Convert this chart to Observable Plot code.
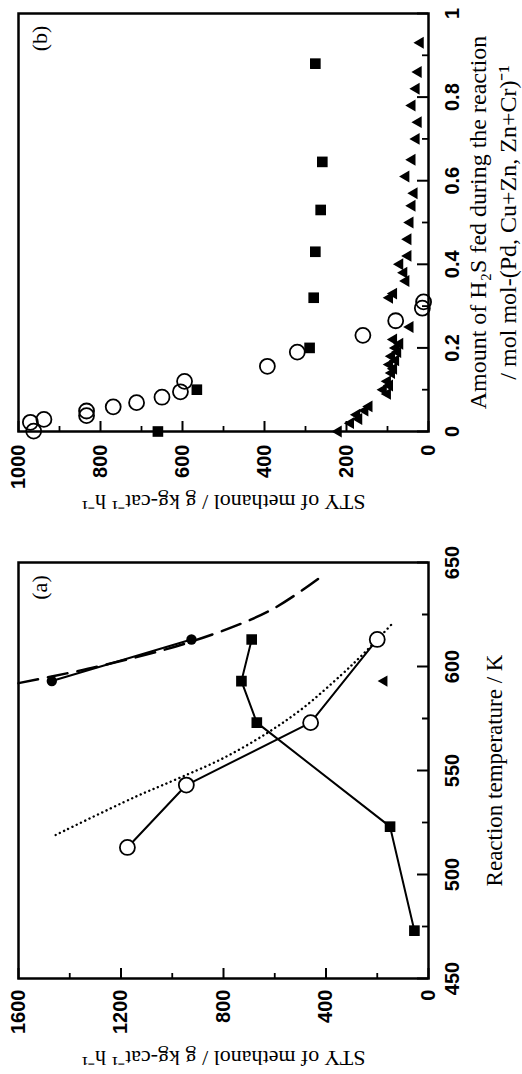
<!DOCTYPE html>
<html><head><meta charset="utf-8">
<script src="https://cdn.jsdelivr.net/npm/d3@7"></script>
<script src="https://cdn.jsdelivr.net/npm/@observablehq/plot@0.6"></script>
<style>
html,body{margin:0;padding:0;background:#fff;overflow:hidden;}
#stage{position:absolute;left:0;top:0;width:1074px;height:522px;transform-origin:0 0;transform:translate(0px,1074px) rotate(-90deg);background:#fff;}
#pa{position:absolute;top:0;left:0;width:540px;height:522px;}
#pb{position:absolute;top:0;left:540px;width:534px;height:522px;}
</style></head><body>
<div id="stage"><div id="pa"></div><div id="pb"></div></div>
<script>
// ---------- Panel (a) data ----------
const tempTicks = [450, 500, 550, 600, 650];
const tempMinor = [475, 525, 575, 625];
const styTicksA = [0, 400, 800, 1200, 1600];
const styMinorA = [200, 600, 1000, 1400];

const aFilledCircleT   = [593, 613];
const aFilledCircleSTY = [1470, 925];
const aSquareT   = [473, 523, 573, 593, 613];
const aSquareSTY = [55, 150, 670, 730, 690];
const aOpenCircleT   = [513, 543, 573, 613];
const aOpenCircleSTY = [1175, 945, 460, 200];
const aTriangleT   = [593];
const aTriangleSTY = [173];
// dashed curve and dotted curve
const aDashT   = [592, 600, 612, 627, 644];
const aDashSTY = [1600, 1290, 925, 617, 410];
const aDotT    = [519, 537, 546, 556, 568, 580, 596, 606, 620];
const aDotSTY  = [1455, 1150, 980, 800, 630, 490, 340, 255, 146];

// ---------- Panel (b) data ----------
const h2sTicks = [0, 0.2, 0.4, 0.6, 0.8, 1];
const h2sMinor = [0.1, 0.3, 0.5, 0.7, 0.9];
const styTicksB = [0, 200, 400, 600, 800, 1000];
const styMinorB = [100, 300, 500, 700, 900];

const bOpenH   = [0.001, 0.022, 0.029, 0.038, 0.049, 0.059, 0.069, 0.082, 0.095, 0.12, 0.156, 0.19, 0.23, 0.265, 0.295, 0.31];
const bOpenSTY = [963, 971, 938, 834, 834, 769, 712, 650, 605, 595, 393, 320, 160, 80, 15, 12];
const bSquareH   = [0, 0.1, 0.2, 0.32, 0.43, 0.53, 0.645, 0.88];
const bSquareSTY = [660, 565, 290, 280, 276, 263, 259, 276];
const bTriH   = [0, 0.02, 0.03, 0.04, 0.05, 0.06, 0.09, 0.10, 0.11, 0.12, 0.14, 0.15, 0.16, 0.17, 0.18, 0.19, 0.2, 0.21, 0.22, 0.25, 0.32, 0.33, 0.36, 0.38, 0.4, 0.42, 0.46, 0.5, 0.54, 0.57, 0.61, 0.65, 0.7, 0.74, 0.78, 0.82, 0.86, 0.93];
const bTriSTY = [220, 190, 170, 175, 155, 145, 100, 110, 95, 100, 90, 85, 95, 80, 90, 75, 80, 70, 85, 45, 95, 85, 55, 60, 70, 50, 50, 45, 40, 35, 55, 40, 30, 25, 40, 30, 25, 20];

// ---------- Texts ----------
const yTitle = "STY of methanol / g kg-cat\u207B\u00B9 h\u207B\u00B9";
const xTitleA = "Reaction temperature / K";
const xTitleB1 = "Amount of H\u2082S fed during the reaction";
const xTitleB2 = "/ mol mol-(Pd, Cu+Zn, Zn+Cr)\u207B\u00B9";
const panelA = "(a)", panelB = "(b)";

const zip = (xs, ys) => xs.map((x, i) => ({x, y: ys[i]}));
const serif = "Liberation Serif, Times New Roman, serif";
const sans = "Liberation Sans, Arial, sans-serif";
const centered = {text: d => d, textAnchor: "middle", lineAnchor: "middle", fontFamily: serif};

function panel({width, marginLeft, marginRight, xDomain, yDomain, xTicks, xMinor, yTicks, yMinor, marks, tag, xTitleMarks, yTitleDx, yPad}) {
  const height = 522, marginTop = 18, marginBottom = 94;
  const innerW = width - marginLeft - marginRight;
  const innerH = height - marginTop - marginBottom;
  return Plot.plot({
    width, height, marginLeft, marginRight, marginTop, marginBottom,
    x: {domain: xDomain},
    y: {domain: yDomain},
    style: {fontFamily: sans, fontSize: "20px", color: "black", background: "white"},
    marks: [
      Plot.ruleX(xTicks, {insetTop: innerH - 11, stroke: "black", strokeWidth: 2}),
      Plot.ruleX(xMinor, {insetTop: innerH - 6, stroke: "black", strokeWidth: 1.8}),
      Plot.ruleY(yTicks, {insetRight: innerW - 11, stroke: "black", strokeWidth: 2}),
      Plot.ruleY(yMinor, {insetRight: innerW - 6, stroke: "black", strokeWidth: 1.8}),
      Plot.axisX(xTicks, {tickSize: 0, tickPadding: 16, fontSize: 20, fontWeight: "bold", label: null, tickFormat: d => String(d)}),
      Plot.axisY(yTicks, {tickSize: 0, tickPadding: yPad, fontSize: 20, fontWeight: "bold", label: null, tickFormat: d => String(d)}),
      ...marks,
      Plot.frame({stroke: "black", strokeWidth: 2.5}),
      Plot.text([yTitle], {...centered, frameAnchor: "left", rotate: -90, dx: yTitleDx, fontSize: 22}),
      ...xTitleMarks,
      Plot.text([tag], {...centered, frameAnchor: "top-right", dx: -25, dy: 21, fontSize: 22})
    ]
  });
}

const lineStyle = {x: "x", y: "y", stroke: "black", strokeWidth: 2};

const plotA = panel({
  width: 540, marginLeft: 95, marginRight: 29,
  xDomain: [450, 650], yDomain: [0, 1600],
  xTicks: tempTicks, xMinor: tempMinor, yTicks: styTicksA, yMinor: styMinorA,
  tag: panelA, yTitleDx: -80, yPad: 11,
  xTitleMarks: [Plot.text([xTitleA], {...centered, frameAnchor: "bottom", dy: 66, fontSize: 23})],
  marks: [
    Plot.line(zip(aDashT, aDashSTY), {x: "x", y: "y", stroke: "black", strokeWidth: 2.5, strokeDasharray: "20,10", curve: "catmull-rom"}),
    Plot.line(zip(aDotT, aDotSTY), {x: "x", y: "y", stroke: "black", strokeWidth: 2.4, strokeDasharray: "0.1,4.6", strokeLinecap: "round", curve: "catmull-rom"}),
    Plot.line(zip(aFilledCircleT, aFilledCircleSTY), lineStyle),
    Plot.line(zip(aSquareT, aSquareSTY), lineStyle),
    Plot.line(zip(aOpenCircleT, aOpenCircleSTY), lineStyle),
    Plot.dot(zip(aOpenCircleT, aOpenCircleSTY), {x: "x", y: "y", r: 7.5, stroke: "black", strokeWidth: 1.8, fill: "white"}),
    Plot.dot(zip(aFilledCircleT, aFilledCircleSTY), {x: "x", y: "y", r: 5.2, fill: "black"}),
    Plot.dot(zip(aSquareT, aSquareSTY), {x: "x", y: "y", symbol: "square", r: 6, fill: "black"}),
    Plot.dot(zip(aTriangleT, aTriangleSTY), {x: "x", y: "y", symbol: "triangle", r: 4.2, fill: "black"})
  ]
});

const plotB = panel({
  width: 534, marginLeft: 102, marginRight: 14,
  xDomain: [0, 1], yDomain: [0, 1000],
  xTicks: h2sTicks, xMinor: h2sMinor, yTicks: styTicksB, yMinor: styMinorB,
  tag: panelB, yTitleDx: -71, yPad: 13,
  xTitleMarks: [
    Plot.text([xTitleB1], {...centered, frameAnchor: "bottom", dy: 50, fontSize: 24}),
    Plot.text([xTitleB2], {...centered, frameAnchor: "bottom", dy: 80, fontSize: 24})
  ],
  marks: [
    Plot.dot(zip(bOpenH, bOpenSTY), {x: "x", y: "y", r: 7.5, stroke: "black", strokeWidth: 1.8, fill: "none"}),
    Plot.dot(zip(bSquareH, bSquareSTY), {x: "x", y: "y", symbol: "square", r: 6, fill: "black"}),
    Plot.dot(zip(bTriH, bTriSTY), {x: "x", y: "y", symbol: "triangle", r: 4.4, fill: "black"})
  ]
});

document.getElementById("pa").appendChild(plotA);
document.getElementById("pb").appendChild(plotB);
</script>
</body></html>
